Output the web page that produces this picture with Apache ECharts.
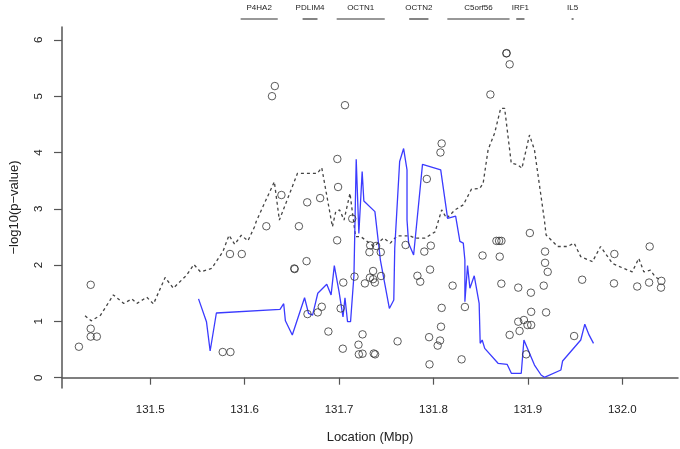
<!DOCTYPE html>
<html>
<head>
<meta charset="utf-8">
<style>
  html, body { margin: 0; padding: 0; background: #fff; }
  #main { width: 680px; height: 449px; }
</style>
<script src="https://cdn.jsdelivr.net/npm/echarts@6/dist/echarts.min.js"></script>
</head>
<body>
<div id="main"></div>
<script>
// tick labels
var xTicks = [131.5, 131.6, 131.7, 131.8, 131.9, 132.0];
var yTicks = [0, 1, 2, 3, 4, 5, 6];

// genes drawn above the plot (start, end in Mbp)
var geneNames = ['P4HA2', 'PDLIM4', 'OCTN1', 'OCTN2', 'C5orf56', 'IRF1', 'IL5'];
var geneStart = [131.5958, 131.6614, 131.6975, 131.7743, 131.8147, 131.8877, 131.9463];
var geneEnd   = [131.6351, 131.6772, 131.7484, 131.7947, 131.8806, 131.8964, 131.9484];

// single SNP p-values (open circles)
var snpPos = [
    131.4245, 131.437, 131.437, 131.437, 131.4435, 131.5768, 131.585, 131.5845, 131.597, 131.623,
    131.629, 131.632, 131.639, 131.6526, 131.653, 131.6575, 131.6656, 131.6663, 131.6666, 131.6775,
    131.68, 131.6817, 131.6887, 131.698, 131.6982, 131.699, 131.7017, 131.704, 131.7045, 131.7063,
    131.714, 131.7164, 131.7206, 131.721, 131.7249, 131.7249, 131.7274, 131.7322, 131.7327, 131.733,
    131.7361, 131.7361, 131.7379, 131.7368, 131.7382, 131.7393, 131.7442, 131.7445, 131.762, 131.7705,
    131.783, 131.786, 131.7903, 131.793, 131.7964, 131.7954, 131.7958, 131.7972, 131.8045, 131.807,
    131.8074, 131.808, 131.8087, 131.8087, 131.8203, 131.8298, 131.8333, 131.852, 131.8603, 131.8667,
    131.8695, 131.872, 131.8702, 131.8719, 131.8772, 131.8775, 131.8807, 131.8807, 131.8898, 131.8898,
    131.8912, 131.8958, 131.8982, 131.8996, 131.9035, 131.9021, 131.9032, 131.9035, 131.9168, 131.9182,
    131.9182, 131.921, 131.9193, 131.949, 131.9575, 131.9912, 131.9916, 132.0158, 132.0284, 132.029,
    132.0414, 132.041
];
var snpLogP = [
    0.55, 1.65, 0.87, 0.73, 0.73, 0.456, 0.456, 2.197, 2.197, 2.69,
    5.00, 5.18, 3.245, 1.94, 1.93, 2.69, 2.07, 3.115, 1.13, 1.16,
    3.19, 1.26, 0.82, 2.44, 3.885, 3.387, 1.23, 0.515, 1.69, 4.84,
    2.825, 1.795, 0.586, 0.415, 0.426, 0.77, 1.675, 2.23, 1.777, 2.35,
    1.895, 1.75, 1.69, 0.43, 0.415, 2.34, 2.23, 1.806, 0.646, 2.357,
    1.81, 1.705, 2.24, 3.53, 1.92, 0.72, 0.237, 2.345, 0.57, 0.66,
    4.00, 0.906, 1.24, 4.16, 1.635, 0.326, 1.256, 2.17, 5.03, 2.43,
    2.43, 2.43, 2.15, 1.67, 5.76, 5.765, 5.566, 0.76, 1.60, 0.995,
    0.83, 1.025, 0.415, 0.936, 0.936, 2.57, 1.51, 1.17, 1.635, 2.24,
    2.04, 1.88, 1.16, 0.74, 1.74, 1.675, 2.197, 1.62, 1.69, 2.33,
    1.72, 1.60
];

// dashed curve
var dashPos = [
    131.431, 131.4375, 131.4474, 131.461, 131.472, 131.4806, 131.486, 131.4964, 131.5035, 131.5158,
    131.5245, 131.5385, 131.5463, 131.5533, 131.565, 131.577, 131.5835, 131.5895, 131.5965, 131.6035,
    131.6105, 131.6122, 131.6227, 131.6315, 131.6368, 131.656, 131.677, 131.6817, 131.693, 131.6965,
    131.7006, 131.7053, 131.7116, 131.7175, 131.723, 131.728, 131.7368, 131.7474, 131.7543, 131.7614,
    131.7684, 131.775, 131.7806, 131.7912, 131.8017, 131.8087, 131.814, 131.8228, 131.8316, 131.8403,
    131.849, 131.8526, 131.8579, 131.8649, 131.8712, 131.8754, 131.8824, 131.8895, 131.8937, 131.9017,
    131.907, 131.9175, 131.9193, 131.9316, 131.942, 131.949, 131.956, 131.9684, 131.977, 131.9895,
    132.0017, 132.0105, 132.0175, 132.0228, 132.0298, 132.035, 132.0403
];
var dashLogP = [
    1.10, 1.01, 1.11, 1.47, 1.32, 1.40, 1.32, 1.43, 1.31, 1.78,
    1.59, 1.82, 2.01, 1.88, 1.94, 2.24, 2.53, 2.37, 2.53, 2.43,
    2.68, 2.77, 3.16, 3.48, 2.80, 3.63, 3.63, 3.73, 2.68, 2.95,
    2.98, 2.80, 3.275, 2.505, 2.505, 2.445, 2.33, 2.48, 2.39, 2.52,
    2.52, 2.52, 2.48, 2.48, 2.59, 2.98, 2.83, 2.98, 3.07, 3.35,
    3.36, 3.45, 4.05, 4.35, 4.785, 4.785, 3.81, 3.78, 3.72, 4.31,
    4.045, 2.80, 2.535, 2.33, 2.33, 2.39, 2.15, 2.06, 2.33, 2.03,
    1.94, 1.88, 2.12, 1.88, 1.91, 1.79, 1.735
];

// blue curve
var bluePos = [
    131.5512, 131.5596, 131.5635, 131.5701, 131.6375, 131.6414, 131.6432, 131.6505, 131.6635, 131.6677,
    131.672, 131.6775, 131.687, 131.6916, 131.695, 131.700, 131.7042, 131.7063, 131.709, 131.7122,
    131.7158, 131.7182, 131.7210, 131.7245, 131.7263, 131.738, 131.7438, 131.7533, 131.758, 131.759,
    131.7642, 131.7684, 131.7702, 131.772, 131.772, 131.7737, 131.779, 131.7884, 131.8077, 131.815,
    131.8235, 131.828, 131.8316, 131.8333, 131.8333, 131.8361, 131.8386, 131.8432, 131.8484, 131.8495,
    131.8516, 131.8543, 131.8684, 131.878, 131.8825, 131.893, 131.8958, 131.907, 131.914, 131.9175,
    131.935, 131.9368, 131.956, 131.9603, 131.9648, 131.9695
];
var blueLogP = [
    1.40, 0.995, 0.474, 1.149, 1.215, 1.314, 1.01, 0.758, 1.42, 1.143,
    1.11, 1.50, 1.66, 1.47, 1.99, 1.53, 1.08, 1.42, 0.995, 0.995,
    1.82, 3.88, 2.56, 3.66, 3.14, 2.95, 2.09, 1.23, 1.38, 2.30,
    3.84, 4.07, 4.10, 3.69, 2.80, 2.39, 2.18, 3.79, 3.69, 2.83,
    2.87, 2.42, 2.39, 2.09, 1.35, 1.99, 1.59, 1.81, 1.32, 0.61,
    0.67, 0.52, 0.256, 0.238, 0.078, 0.078, 0.67, 0.225, 0.048, 0.007,
    0.137, 0.297, 0.67, 0.95, 0.76, 0.61
];

function zip(a, b) {
    var out = [];
    for (var i = 0; i < a.length; i++) {
        out.push([a[i], b[i]]);
    }
    return out;
}

var font = '"Liberation Sans", Arial, Helvetica, sans-serif';
var chart = echarts.init(document.getElementById('main'));

var option = {
    animation: false,
    backgroundColor: '#fff',
    grid: { left: 58, right: 2, top: 27, bottom: 61 },
    xAxis: {
        type: 'value',
        min: 131.4066,
        max: 132.059,
        name: 'Location (Mbp)',
        nameLocation: 'middle',
        nameGap: 43,
        nameTextStyle: { fontFamily: font, fontSize: 13, color: '#222' },
        axisLine: { lineStyle: { color: '#555', width: 1.5 } },
        axisTick: { length: 7, customValues: xTicks, lineStyle: { color: '#555', width: 1.2 } },
        axisLabel: {
            customValues: xTicks, margin: 16,
            fontFamily: font, fontSize: 11.5, color: '#222',
            formatter: function (v) { return v.toFixed(1); }
        },
        splitLine: { show: false }
    },
    yAxis: {
        type: 'value',
        min: -0.183,
        max: 6.229,
        name: '\u2212log10(p\u2212value)',
        nameLocation: 'middle',
        nameGap: 41,
        nameRotate: 90,
        nameTextStyle: { fontFamily: font, fontSize: 13, color: '#222' },
        axisLine: { lineStyle: { color: '#555', width: 1.5 } },
        axisTick: { length: 8, customValues: yTicks, lineStyle: { color: '#555', width: 1.2 } },
        axisLabel: {
            customValues: yTicks, rotate: 90, margin: 17,
            fontFamily: font, fontSize: 11.5, color: '#222'
        },
        splitLine: { show: false }
    },
    series: [
        {
            name: 'genes',
            type: 'custom',
            clip: false,
            silent: true,
            data: geneNames.map(function (n, i) { return [geneStart[i], geneEnd[i], n]; }),
            encode: { x: [0, 1] },
            renderItem: function (params, api) {
                var top = params.coordSys.y;
                var s = api.coord([api.value(0), 0]);
                var e = api.coord([api.value(1), 0]);
                var ex = Math.max(e[0], s[0] + 2);
                return {
                    type: 'group',
                    children: [
                        {
                            type: 'line',
                            shape: { x1: s[0], y1: top - 8, x2: ex, y2: top - 8 },
                            style: { stroke: '#333', lineWidth: 1.2 }
                        },
                        {
                            type: 'text',
                            style: {
                                text: geneNames[params.dataIndex],
                                x: (s[0] + ex) / 2, y: top - 19,
                                align: 'center', verticalAlign: 'middle',
                                font: '8px ' + font, fill: '#222'
                            }
                        }
                    ]
                };
            }
        },
        {
            name: 'dashed',
            type: 'line',
            data: zip(dashPos, dashLogP),
            showSymbol: false,
            lineStyle: { color: '#444', width: 1.3, type: [3, 3] },
            z: 2
        },
        {
            name: 'blue',
            type: 'line',
            data: zip(bluePos, blueLogP),
            showSymbol: false,
            lineStyle: { color: '#3b3bff', width: 1.3 },
            z: 3
        },
        {
            name: 'snps',
            type: 'scatter',
            data: zip(snpPos, snpLogP),
            symbol: 'circle',
            symbolSize: 7.5,
            itemStyle: { color: 'rgba(0,0,0,0)', borderColor: '#333', borderWidth: 1 },
            z: 4
        }
    ]
};

chart.setOption(option);
</script>
</body>
</html>
